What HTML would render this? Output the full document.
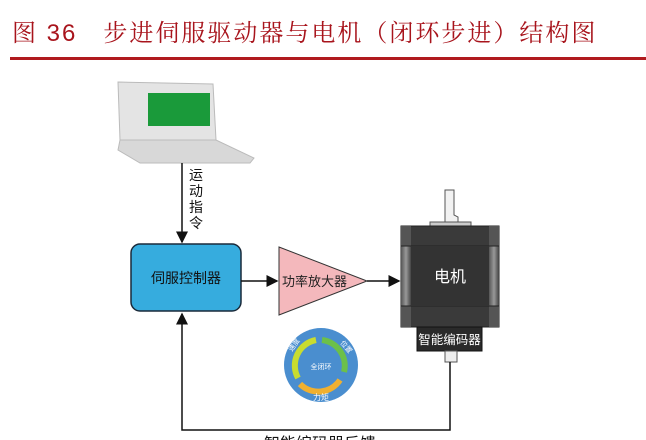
<!DOCTYPE html>
<html><head><meta charset="utf-8"><style>
body{margin:0;background:#fff;width:646px;height:440px;overflow:hidden;position:relative;font-family:"Liberation Sans","Noto Sans CJK SC",sans-serif}
.t{position:absolute;left:12px;top:13px;font-size:24px;color:#a8141c;font-family:"Liberation Sans","Noto Serif CJK SC",serif;letter-spacing:2px;white-space:nowrap}
</style></head><body>
<div class="t">图 36&nbsp;&nbsp;&nbsp;步进伺服驱动器与电机（闭环步进）结构图</div>
<div style="position:absolute;left:10px;top:57px;width:636px;height:3px;background:#b01a1e"></div>
<svg width="646" height="440" style="position:absolute;left:0;top:0" font-family="Liberation Sans, Noto Sans CJK SC, sans-serif">
<defs>
<marker id="a" markerWidth="8" markerHeight="8" refX="7" refY="4" orient="auto"><path d="M0,0 L8,4 L0,8 Z" fill="#111"/></marker>
<linearGradient id="g" x1="0" x2="1"><stop offset="0" stop-color="#555"/><stop offset=".5" stop-color="#999"/><stop offset="1" stop-color="#444"/></linearGradient>
</defs>
<polygon points="118,82 213,84 216,140 120,140" fill="#e4e4e4" stroke="#bbb"/>
<rect x="148" y="93" width="62" height="33" fill="#1a9a3a"/>
<polygon points="120,140 216,140 254,158 250,163 140,163 118,150" fill="#d8d8d8" stroke="#bbb"/>
<line x1="182" y1="163" x2="182" y2="242" stroke="#111" stroke-width="1.5" marker-end="url(#a)"/>
<text font-size="14" fill="#111"><tspan x="189" y="180">运</tspan><tspan x="189" y="196">动</tspan><tspan x="189" y="212">指</tspan><tspan x="189" y="228">令</tspan></text>
<rect x="131" y="244" width="110" height="67" rx="9" fill="#36acde" stroke="#1a2a3a" stroke-width="1.5"/>
<text x="186" y="283" font-size="14" text-anchor="middle" fill="#111">伺服控制器</text>
<line x1="241" y1="281" x2="277" y2="281" stroke="#111" stroke-width="1.5" marker-end="url(#a)"/>
<polygon points="279,247 279,315 367,281" fill="#f4b8bc" stroke="#333"/>
<text x="282" y="286" font-size="13" fill="#222">功率放大器</text>
<line x1="367" y1="281" x2="399" y2="281" stroke="#111" stroke-width="1.5" marker-end="url(#a)"/>
<polygon points="445,190 454,190 454,215 458,217 458,225 445,225" fill="#f2f2f2" stroke="#555"/>
<rect x="430" y="222" width="41" height="5" fill="#ccc" stroke="#555"/>
<rect x="401" y="226" width="98" height="101" fill="#3a3a3a" stroke="#222"/>
<rect x="401" y="246" width="10" height="60" fill="url(#g)"/>
<rect x="489" y="246" width="10" height="60" fill="url(#g)"/>
<rect x="401" y="226" width="10" height="20" fill="#555"/><rect x="489" y="226" width="10" height="20" fill="#555"/>
<rect x="401" y="306" width="10" height="21" fill="#555"/><rect x="489" y="306" width="10" height="21" fill="#555"/>
<line x1="401" y1="246" x2="499" y2="246" stroke="#222"/><line x1="401" y1="306" x2="499" y2="306" stroke="#222"/>
<rect x="411" y="246" width="78" height="60" fill="#333"/>
<text x="450" y="282" font-size="16" text-anchor="middle" fill="#fff">电机</text>
<rect x="417" y="327" width="65" height="24" fill="#2a2a2a" stroke="#111"/>
<text x="449.5" y="344" font-size="12.5" text-anchor="middle" fill="#fff">智能编码器</text>
<rect x="445" y="351" width="12" height="11" fill="#eee" stroke="#555"/>
<polyline points="450,362 450,430 182,430 182,314" fill="none" stroke="#111" stroke-width="1.5" marker-end="url(#a)"/>
<circle cx="321" cy="365" r="37" fill="#4a8ecf"/>
<path d="M298,378 A26,26 0 0 1 316,340" fill="none" stroke="#c8dc30" stroke-width="6"/>
<path d="M322,340 A26,26 0 0 1 344,372" fill="none" stroke="#6cc04a" stroke-width="6"/>
<path d="M340,380 A26,26 0 0 1 300,384" fill="none" stroke="#f0b030" stroke-width="6"/>
<text x="321" y="369" font-size="7" text-anchor="middle" fill="#fff">全闭环</text>
<text x="321" y="400" font-size="8" text-anchor="middle" fill="#fff">力矩</text>
<text x="292" y="352" font-size="7" fill="#fff" transform="rotate(-55 292 352)">速度</text>
<text x="340" y="343" font-size="7" fill="#fff" transform="rotate(50 340 343)">位置</text>
<text x="320" y="449" font-size="16" text-anchor="middle" fill="#111">智能编码器反馈</text>
</svg>
</body></html>
